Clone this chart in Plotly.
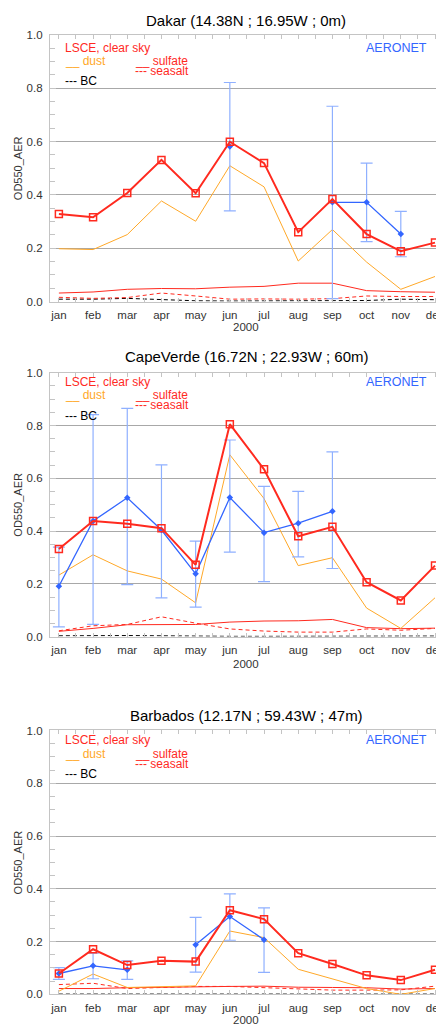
import plotly.graph_objects as go

# The page body keeps its default 8px margin, so the figure is laid out
# 8px smaller and all reference pixel positions are shifted by that margin.
OFF = 8
W, H = 444 - OFF, 1029 - OFF

months = ["jan", "feb", "mar", "apr", "may", "jun", "jul", "aug", "sep", "oct", "nov", "dec"]
month_num = [1, 2, 3, 4, 5, 6, 7, 8, 9, 10, 11, 12]
y_ticks = [0.0, 0.2, 0.4, 0.6, 0.8, 1.0]

# ---- Dakar ----
dakar_title = "Dakar (14.38N ; 16.95W ; 0m)"
dakar_total = [0.328, 0.316, 0.407, 0.531, 0.406, 0.599, 0.519, 0.260, 0.384, 0.253, 0.189, 0.221]
dakar_dust = [0.198, 0.195, 0.251, 0.377, 0.301, 0.509, 0.430, 0.152, 0.270, 0.148, 0.046, 0.094]
dakar_sulfate = [0.032, 0.036, 0.046, 0.049, 0.048, 0.054, 0.057, 0.069, 0.069, 0.041, 0.037, 0.035]
dakar_seasalt = [0.016, 0.012, 0.015, 0.032, 0.021, 0.009, 0.010, 0.009, 0.011, 0.021, 0.019, 0.019]
dakar_bc = [0.009, 0.009, 0.012, 0.007, 0.003, 0.002, 0.002, 0.002, 0.003, 0.004, 0.009, 0.007]
dakar_aeronet = [None, None, None, None, None, 0.581, None, None, 0.372, 0.372, 0.253, None]
dakar_aer_hi = [None, None, None, None, None, 0.821, None, None, 0.732, 0.519, 0.338, None]
dakar_aer_lo = [None, None, None, None, None, 0.340, None, None, 0.011, 0.225, 0.168, None]

# ---- CapeVerde ----
cape_title = "CapeVerde (16.72N ; 22.93W ; 60m)"
cape_total = [0.332, 0.438, 0.428, 0.411, 0.272, 0.805, 0.634, 0.380, 0.416, 0.206, 0.137, 0.269]
cape_dust = [0.233, 0.310, 0.249, 0.218, 0.128, 0.689, 0.523, 0.269, 0.299, 0.108, 0.031, 0.147]
cape_sulfate = [0.020, 0.031, 0.045, 0.046, 0.046, 0.055, 0.059, 0.060, 0.065, 0.034, 0.030, 0.032]
cape_seasalt = [0.022, 0.041, 0.046, 0.075, 0.051, 0.029, 0.021, 0.017, 0.017, 0.029, 0.024, 0.031]
cape_bc = [0.003, 0.004, 0.004, 0.003, 0.001, 0.001, 0.001, 0.001, 0.001, 0.001, 0.001, 0.002]
cape_aeronet = [0.191, 0.438, 0.526, 0.404, 0.238, 0.527, 0.394, 0.430, 0.475, None, None, None]
cape_aer_hi = [0.339, 0.841, 0.865, 0.651, 0.362, 0.745, 0.569, 0.550, 0.700, None, None, None]
cape_aer_lo = [0.037, 0.046, 0.197, 0.147, 0.112, 0.320, 0.208, 0.302, 0.258, None, None, None]

# ---- Barbados ----
barb_title = "Barbados (12.17N ; 59.43W ; 47m)"
barb_total = [0.079, 0.171, 0.111, 0.127, 0.124, 0.319, 0.285, 0.156, 0.115, 0.072, 0.054, 0.093]
barb_dust = [0.012, 0.077, 0.026, 0.028, 0.032, 0.240, 0.215, 0.095, 0.058, 0.022, 0.000, 0.022]
barb_sulfate = [0.022, 0.022, 0.025, 0.027, 0.030, 0.030, 0.031, 0.027, 0.026, 0.025, 0.020, 0.022]
barb_seasalt = [0.037, 0.042, 0.022, 0.026, 0.030, 0.030, 0.025, 0.019, 0.016, 0.016, 0.017, 0.031]
barb_bc = [0.001, 0.001, 0.001, 0.001, 0.001, 0.001, 0.001, 0.001, 0.001, 0.001, 0.001, 0.001]
barb_aeronet = [0.079, 0.108, 0.093, None, 0.188, 0.295, 0.207, None, None, None, None, None]
barb_aer_hi = [0.101, 0.156, 0.127, None, 0.292, 0.381, 0.328, None, None, None, None, None]
barb_aer_lo = [0.057, 0.059, 0.057, None, 0.084, 0.205, 0.083, None, None, None, None, None]

RED = "#ff2a1f"
ORANGE = "#ffa828"
BLUE = "#3366ff"
ERRBLUE = "#8fb0ff"
GRID = "#a8a8a8"
AXC = "#c4c4c4"
FONT = "Liberation Sans, Arial, sans-serif"

panels = [
    dict(title=dakar_title, total=dakar_total, dust=dakar_dust, sulfate=dakar_sulfate,
         seasalt=dakar_seasalt, bc=dakar_bc, aer=dakar_aeronet, hi=dakar_aer_hi, lo=dakar_aer_lo,
         top=29, bot=299, ty=15, rows=(42, 55.5, 66, 76), xt=325),
    dict(title=cape_title, total=cape_total, dust=cape_dust, sulfate=cape_sulfate,
         seasalt=cape_seasalt, bc=cape_bc, aer=cape_aeronet, hi=cape_aer_hi, lo=cape_aer_lo,
         top=371, bot=638, ty=355, rows=(380, 393.3, 404, 414.7), xt=666),
    dict(title=barb_title, total=barb_total, dust=barb_dust, sulfate=barb_sulfate,
         seasalt=barb_seasalt, bc=barb_bc, aer=barb_aeronet, hi=barb_aer_hi, lo=barb_aer_lo,
         top=733, bot=1000, ty=718, rows=(742.3, 756.3, 767.3, 777.3), xt=1026),
]


def px(x):
    return (x - OFF) / W


def py(y):
    return 1 - (y - OFF) / H


x_dom = [px(50), 1.0]
x_range = [0.7374, 12.234]

fig = go.Figure()
annotations = []
layout_axes = {}

for i, p in enumerate(panels, start=1):
    xa = "x" if i == 1 else f"x{i}"
    ya = "y" if i == 1 else f"y{i}"
    common = dict(xaxis=xa, yaxis=ya, showlegend=False, hoverinfo="skip")
    fig.add_trace(go.Scatter(x=month_num, y=p["bc"], mode="lines",
                             line=dict(color="#000000", width=1, dash="4px,3px"), **common))
    fig.add_trace(go.Scatter(x=month_num, y=p["seasalt"], mode="lines",
                             line=dict(color=RED, width=1, dash="4px,3px"), **common))
    fig.add_trace(go.Scatter(x=month_num, y=p["sulfate"], mode="lines",
                             line=dict(color=RED, width=1), **common))
    fig.add_trace(go.Scatter(x=month_num, y=p["dust"], mode="lines",
                             line=dict(color=ORANGE, width=1), **common))
    plus = [None if (h is None or v is None) else h - v for h, v in zip(p["hi"], p["aer"])]
    minus = [None if (l is None or v is None) else v - l for l, v in zip(p["lo"], p["aer"])]
    fig.add_trace(go.Scatter(x=month_num, y=p["aer"], mode="lines+markers",
                             line=dict(color=BLUE, width=1.3),
                             marker=dict(symbol="diamond", size=5, color=BLUE),
                             error_y=dict(type="data", array=plus, arrayminus=minus, symmetric=False,
                                          color=ERRBLUE, thickness=1.2, width=6),
                             **common))
    fig.add_trace(go.Scatter(x=month_num, y=p["total"], mode="lines+markers",
                             line=dict(color=RED, width=2),
                             marker=dict(symbol="square-open", size=7, color=RED,
                                         line=dict(width=1.5, color=RED)),
                             **common))

    xkey = "xaxis" if i == 1 else f"xaxis{i}"
    ykey = "yaxis" if i == 1 else f"yaxis{i}"
    layout_axes[xkey] = dict(
        domain=x_dom, range=x_range, anchor=ya,
        tickvals=month_num, ticktext=months,
        ticks="inside", ticklen=4, tickcolor=AXC, tickwidth=1,
        minor=dict(tickvals=[m + 0.5 for m in month_num[:-1]], ticks="inside", ticklen=4, tickcolor=AXC),
        showline=True, linecolor=AXC, linewidth=1, mirror="allticks",
        showgrid=False, zeroline=False,
        tickfont=dict(family=FONT, size=11.5, color="#333333"),
        ticklabelstandoff=3, ticklabeloverflow="allow",
    )
    layout_axes[ykey] = dict(
        domain=[py(p["bot"]), py(p["top"])], range=[0, 1.0], anchor=xa,
        tickvals=y_ticks, tickformat=".1f",
        ticks="inside", ticklen=6, tickcolor=AXC,
        minor=dict(dtick=0.05, ticks="inside", ticklen=5, tickcolor=AXC, showgrid=False),
        showline=True, linecolor=AXC, linewidth=1, mirror="allticks",
        showgrid=True, gridcolor=GRID, gridwidth=1, zeroline=False,
        tickfont=dict(family=FONT, size=11.5, color="#333333"),
        ticklabelstandoff=4, ticklabeloverflow="allow",
    )

    annotations.append(dict(text=p["title"], x=px(247), y=py(p["ty"]), xref="paper", yref="paper",
                            showarrow=False, xanchor="center", yanchor="middle",
                            font=dict(family=FONT, size=15, color="#000000")))
    annotations.append(dict(text="OD550_AER", x=px(18), y=py((p["top"] + p["bot"]) / 2),
                            xref="paper", yref="paper", showarrow=False, textangle=-90,
                            xanchor="center", yanchor="middle",
                            font=dict(family=FONT, size=11, color="#333333")))
    annotations.append(dict(text="2000", x=px(247), y=py(p["xt"]), xref="paper", yref="paper",
                            showarrow=False, xanchor="center", yanchor="middle",
                            font=dict(family=FONT, size=11.5, color="#333333")))
    r0, r1, r2, r3 = p["rows"]
    leg = [
        ("LSCE, clear sky", 63, r0, RED),
        ("__ dust", 63, r1, ORANGE),
        ("__ sulfate", 133, r1, RED),
        ("--- seasalt", 133, r2, RED),
        ("--- BC", 63, r3, "#000000"),
    ]
    for txt, lx, ly, col in leg:
        annotations.append(dict(text=txt, x=px(lx), y=py(ly), xref="paper", yref="paper",
                                showarrow=False, xanchor="left", yanchor="middle",
                                font=dict(family=FONT, size=12, color=col)))
    annotations.append(dict(text="AERONET", x=px(430), y=py(r0), xref="paper", yref="paper",
                            showarrow=False, xanchor="right", yanchor="middle",
                            font=dict(family=FONT, size=12.5, color=BLUE)))

fig.update_layout(
    width=W, height=H,
    margin=dict(l=0, r=0, t=0, b=0),
    paper_bgcolor="white", plot_bgcolor="white",
    annotations=annotations,
    **layout_axes,
)

fig.write_html("out.html")
